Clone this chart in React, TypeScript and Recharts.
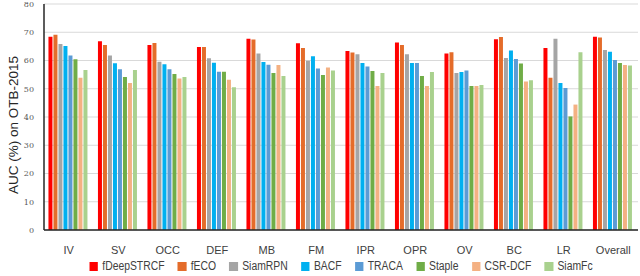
import { BarChart, Bar, XAxis, YAxis, CartesianGrid, Legend } from "recharts";

const CATEGORIES = ["IV", "SV", "OCC", "DEF", "MB", "FM", "IPR", "OPR", "OV", "BC", "LR", "Overall"];

const TRACKERS = ["fDeepSTRCF", "fECO", "SiamRPN", "BACF", "TRACA", "Staple", "CSR-DCF", "SiamFc"];
const COLORS = ["#ff0000", "#e46c2a", "#a5a5a5", "#00b0f0", "#5b9bd5", "#70ad47", "#f4b183", "#a9d18e"];

const fDeepSTRCF = [68.4, 66.8, 65.5, 64.8, 67.7, 66.1, 63.4, 66.4, 62.5, 67.5, 64.4, 68.4];
const fECO = [69.1, 65.5, 66.2, 64.8, 67.4, 64.4, 62.8, 65.5, 62.9, 68.3, 53.9, 68.1];
const SiamRPN = [65.8, 61.8, 59.6, 60.8, 62.5, 59.9, 62.2, 62.2, 55.6, 60.9, 67.7, 63.7];
const BACF = [65.1, 59.0, 58.7, 59.2, 59.5, 61.5, 59.1, 59.1, 55.9, 63.5, 52.0, 63.1];
const TRACA = [61.8, 56.9, 56.9, 56.0, 58.5, 57.2, 57.9, 59.1, 56.5, 60.5, 50.3, 60.2];
const Staple = [60.4, 54.2, 55.2, 56.0, 55.6, 54.9, 56.3, 54.5, 51.0, 58.9, 40.2, 59.1];
const CSRDCF = [53.9, 52.0, 53.6, 53.2, 58.4, 57.5, 51.0, 51.0, 51.0, 52.6, 44.4, 58.4];
const SiamFc = [56.6, 56.6, 54.2, 50.5, 54.5, 56.5, 55.6, 55.9, 51.3, 53.0, 62.9, 58.2];

const Y_TICKS = [0, 10, 20, 30, 40, 50, 60, 70, 80];

const SERIES = [fDeepSTRCF, fECO, SiamRPN, BACF, TRACA, Staple, CSRDCF, SiamFc];

const data = CATEGORIES.map((c, i) => {
  const row: Record<string, string | number> = { name: c };
  TRACKERS.forEach((t, k) => {
    row[t] = SERIES[k][i];
  });
  return row;
});

const FONT = "'Liberation Sans', Arial, sans-serif";

// the original uses a narrow office font; squeeze the legend row to the same width
function LegendRow() {
  return (
    <div
      style={{
        display: "flex",
        justifyContent: "center",
        alignItems: "center",
        fontSize: 12.5,
        fontFamily: FONT,
        color: "#404040",
        lineHeight: "16px",
        transform: "translateX(22px) scaleX(0.83)",
        transformOrigin: "center",
      }}
    >
      {TRACKERS.map((t, k) => (
        <span key={t} style={{ display: "flex", alignItems: "center", marginRight: k < TRACKERS.length - 1 ? 16 : 0 }}>
          <span style={{ width: 10.5, height: 9, background: COLORS[k], marginRight: 5, display: "inline-block" }} />
          {t}
        </span>
      ))}
    </div>
  );
}

export default function App() {
  return (
    <div style={{ position: "absolute", left: 0, top: 0, width: 640, height: 276, background: "#fff" }}>
      <BarChart
        width={640}
        height={276}
        data={data}
        margin={{ top: 4, right: 2, left: 0, bottom: 0 }}
        barCategoryGap="9%"
        barGap={1}
      >
        <CartesianGrid vertical={false} stroke="#d9d9d9" />
        <XAxis
          dataKey="name"
          tickLine={false}
          axisLine={{ stroke: "#262626", strokeWidth: 1.5 }}
          height={28}
          tickMargin={10}
          tick={{ fontSize: 11, fill: "#404040", fontFamily: FONT }}
          interval={0}
        />
        <XAxis xAxisId="top" dataKey="name" orientation="top" height={0} tick={false} tickLine={false} axisLine={{ stroke: "#595959", strokeWidth: 2 }} />
        <YAxis
          domain={[0, 80]}
          ticks={Y_TICKS}
          width={44}
          tickLine={false}
          axisLine={{ stroke: "#262626", strokeWidth: 1.5 }}
          tickMargin={4}
          tick={{ fontSize: 8, fill: "#595959", fontFamily: "'DejaVu Serif', serif" }}
          label={{
            value: "AUC (%) on OTB-2015",
            angle: -90,
            position: "center",
            dx: -9,
            dy: 8,
            style: { fontSize: 13.5, fill: "#262626", fontFamily: FONT, textAnchor: "middle" },
          }}
        />
        <YAxis yAxisId="right" orientation="right" width={0} domain={[0, 80]} tick={false} tickLine={false} axisLine={{ stroke: "#262626", strokeWidth: 1.5 }} />
        <Legend verticalAlign="bottom" height={18} content={() => <LegendRow />} />
        {TRACKERS.map((t, k) => (
          <Bar key={t} dataKey={t} fill={COLORS[k]} isAnimationActive={false} />
        ))}
      </BarChart>
    </div>
  );
}
